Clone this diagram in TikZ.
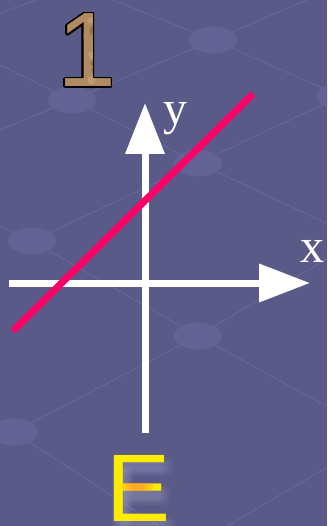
\documentclass[tikz,border=0pt]{standalone}
\usepackage{fontspec}
\setmainfont{Liberation Serif}
\newfontfamily\arialfont{Liberation Sans}
\usetikzlibrary{arrows.meta,calc,shapes.geometric}

\definecolor{bgc}{RGB}{90,90,136}
\definecolor{blobc}{RGB}{98,98,148}
\definecolor{netc}{RGB}{105,105,156}
\definecolor{linec}{RGB}{255,0,102}
\definecolor{eyellow}{RGB}{255,236,0}
\definecolor{eorange}{RGB}{255,150,48}
\definecolor{tanc}{RGB}{176,138,96}
\definecolor{tandark}{RGB}{128,94,58}
\definecolor{tanlight}{RGB}{206,170,126}

\newcommand\onefont{\arialfont\fontsize{106}{110}\selectfont}
\newcommand\efont{\arialfont\fontsize{96}{100}\selectfont}
\newcommand\lblfont{\fontsize{48}{50}\selectfont}

\tikzset{
  netline/.style={draw=netc, line width=0.8pt},
  blob/.style={ellipse, minimum width=48pt, minimum height=27pt, fill=blobc, draw=none, inner sep=0pt},
  axis/.style={draw=white, line width=7pt, -{Triangle[length=51pt,width=37pt]}},
  redline/.style={draw=linec, line width=7pt},
  lbl/.style={inner sep=0pt, anchor=base west, text=white, font=\lblfont},
  onetext/.style={inner sep=0pt, font=\onefont},
  etext/.style={inner sep=0pt, font=\efont},
}

\begin{document}
\begin{tikzpicture}[x=1pt,y=-1pt]
\useasboundingbox (0,0) rectangle (327,526);
\clip (0,0) rectangle (327,526);
\fill[bgc] (0,0) rectangle (327,526);

% background network
\coordinate (nA) at (213,40);
\coordinate (nB) at (72,100);
\coordinate (nC) at (198,163);
\coordinate (nD) at (32,241);
\coordinate (nE) at (198,336);
\coordinate (nF) at (14,432);
\coordinate (nG) at (341,96);
\coordinate (nH) at (360,239);
\coordinate (nI) at (370,430);
\coordinate (f1) at (113,0);
\coordinate (f2) at (307,0);
\coordinate (f3) at (0,65);
\coordinate (f4) at (0,130);
\coordinate (f5) at (0,226);
\coordinate (f6) at (180,540);
\coordinate (f7) at (350,454);
\coordinate (f8) at (215,533);
\coordinate (f9) at (0,13);
\coordinate (f10) at (37,0);
\draw[netline] (nA) -- (f1);
\draw[netline] (nA) -- (f2);
\draw[netline] (nA) -- (nB);
\draw[netline] (nA) -- (nG);
\draw[netline] (nB) -- (f3);
\draw[netline] (nB) -- (f4);
\draw[netline] (nB) -- (nC);
\draw[netline] (nC) -- (nG);
\draw[netline] (nC) -- (nD);
\draw[netline] (nC) -- (nH);
\draw[netline] (nD) -- (f5);
\draw[netline] (nD) -- (nE);
\draw[netline] (nE) -- (nF);
\draw[netline] (nE) -- (nH);
\draw[netline] (nE) -- (nI);
\draw[netline] (nF) -- (f6);
\draw[netline] (f7) -- (f8);
\draw[netline] (f9) -- (f10);
\foreach \n in {A,B,C,D,E,F,G}{\node[blob] (b\n) at (n\n) {};}

% axes
\coordinate (xs) at (9,283);
\coordinate (xe) at (310,283);
\coordinate (ys) at (145,433);
\coordinate (ye) at (145,103);
\draw[axis] (xs) -- (xe);
\draw[axis, -{Triangle[length=51pt,width=38pt]}] (ys) -- (ye);

% line
\coordinate (ls) at (13,331);
\coordinate (le) at (253,94);
\draw[redline] (ls) -- (le);

% labels
\node[lbl] (ylab) at (163,125) {y};
\node[lbl] (xlab) at (300,262) {x};

% the "1"
\node[onetext, anchor=base west] (one) at (57,87) {\phantom{1}};
\foreach \a in {0,22.5,...,337.5}
  \node[onetext, text=black] at ($(one.center)+(\a:1.6pt)$) {1};
\node[onetext, text=tanc] at (one.center) {1};
\foreach \cx/\cy/\r/\c in {94/30/5/tandark, 92/55/4/tanlight, 96/70/5/tandark, 80/36/4/tanlight, 91/80/4/tanlight, 97/45/3/tanlight, 90/20/3/tanlight, 93/63/3/tandark}{
  \begin{scope}
    \clip (\cx,\cy) circle[radius=\r];
    \node[onetext, text=\c, text opacity=0.55] at (one.center) {1};
  \end{scope}
}

% the "E"
\node[etext, anchor=base west] (e) at (106.7,521) {\phantom{E}};
\foreach \dx in {-2,0,...,10}
  \foreach \dy in {2,4,...,14}
    \node[etext, text=white, text opacity=0.012] at ($(e.center)+(\dx,\dy)$) {E};
\node[etext, text=eyellow] at (e.center) {E};
\coordinate (eo) at (137,485);
\foreach \r in {16,12,8,5}{
  \begin{scope}
    \clip (eo) ellipse[x radius=\r, y radius=9];
    \node[etext, text=eorange, text opacity=0.3] at (e.center) {E};
  \end{scope}
}
\end{tikzpicture}
\end{document}
